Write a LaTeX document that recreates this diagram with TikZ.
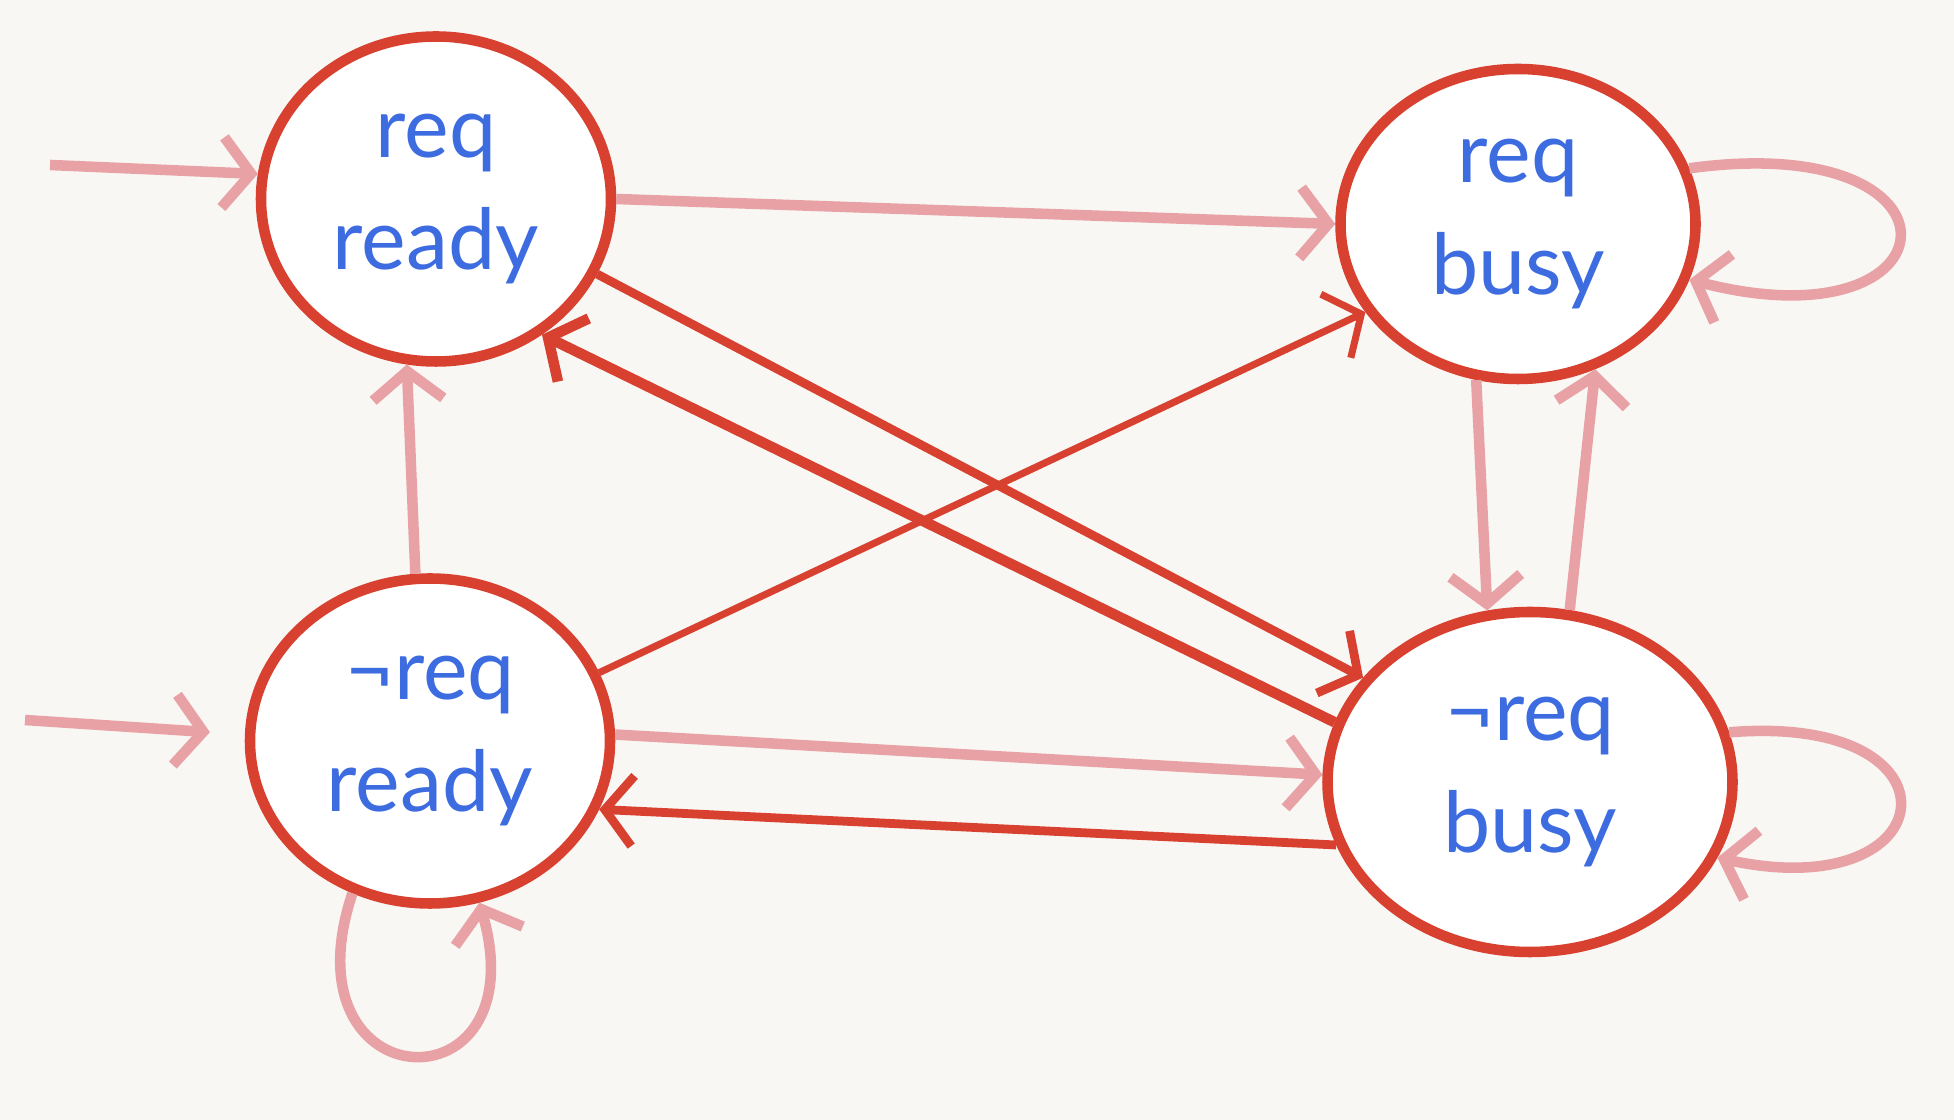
\documentclass[tikz,border=0pt]{standalone}
\usepackage{fontspec}
\setmainfont{Lato}
\usetikzlibrary{arrows.meta,shapes.geometric}
\definecolor{fsmred}{HTML}{D8402F}
\definecolor{fsmpink}{HTML}{E8A2A5}
\definecolor{fsmink}{HTML}{3D6BE0}
\definecolor{fsmpaper}{HTML}{F8F7F4}
\begin{document}
\begin{tikzpicture}[
    state/.style={ellipse, draw=fsmred, line width=3pt, fill=white, text=fsmink,
      align=center, inner sep=0pt, font=\fontsize{24}{32}\selectfont},
    arrow/.style={-{Straight Barb[length=8pt,width=20pt]}, line width=3pt, fsmpink},
    strong/.style={arrow, fsmred, line width=2.5pt}
  ]
    \useasboundingbox (0,0) rectangle (19.54,11.2);
    \fill[fsmpaper] (0,0) rectangle (19.54,11.2);

    % States
    \node[state, minimum width=3.5cm, minimum height=3.25cm] (rr) at (4.36,9.21) {req\\ready};
    \node[state, minimum width=3.55cm, minimum height=3.1cm] (rb) at (15.18,8.96) {req\\busy};
    \node[state, minimum width=3.6cm, minimum height=3.25cm] (nr) at (4.30,3.79) {¬req\\ready};
    \node[state, minimum width=4.05cm, minimum height=3.4cm] (nb) at (15.30,3.38) {¬req\\busy};

    % Initial states
    \coordinate (rrin) at (0.5,9.55);
    \coordinate (nrin) at (0.25,4.0);
    \draw[arrow] (rrin) -- (rr.172);
    \draw[arrow, shorten >=0.35cm] (nrin) -- (nr.178);

    % Transitions
    \draw[arrow] (rr.east) -- (rb.west);
    \draw[strong] (rr.-25) -- (nb.148);
    \draw[strong, line width=3pt] (nb.163) -- (rr.-52);
    \draw[strong, line width=2pt] (nr.22) -- (rb.-150);
    \draw[arrow] (nr.95) -- (rr.-100);
    \draw[arrow] (nr.2) -- (nb.178);
    \draw[strong] (nb.-162) -- (nr.-22);
    \draw[arrow] (rb.-105) -- (nb.104);
    \draw[arrow] (nb.77) -- (rb.-62);

    % Self loops
    \draw[arrow] (rb.18) .. controls +(2.9,0.4) and +(2.7,-0.7) .. (rb.-18);
    \draw[arrow] (nb.14) .. controls +(2.4,0.2) and +(2.3,-0.5) .. (nb.-22);
    \draw[arrow] (nr.-117) .. controls +(-0.7,-2.1) and +(0.6,-2.1) .. (nr.-73);
\end{tikzpicture}
\end{document}
